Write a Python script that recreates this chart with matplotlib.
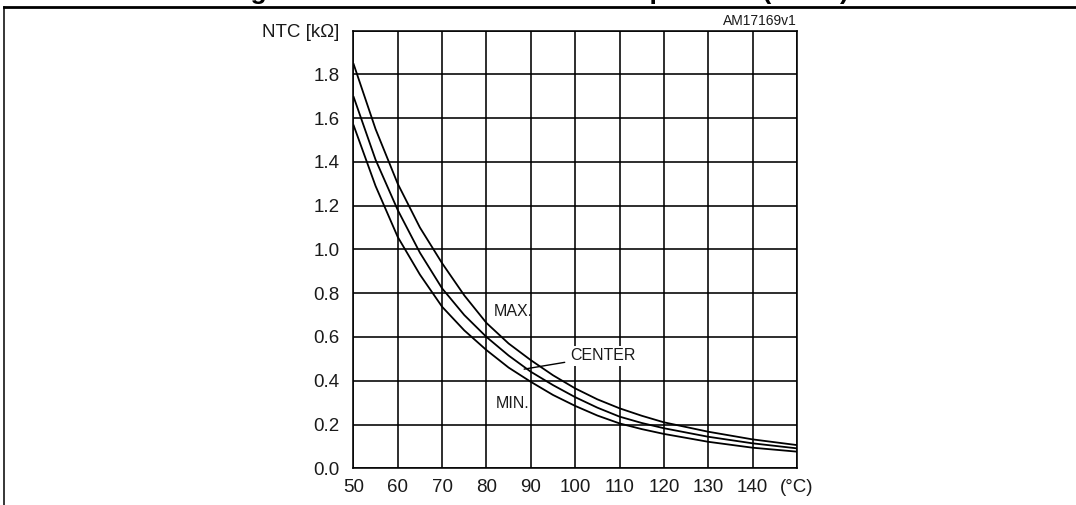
import numpy as np
import matplotlib
matplotlib.use("Agg")
import matplotlib.pyplot as plt
from matplotlib.lines import Line2D

plt.rcParams['font.family'] = ['Liberation Sans', 'DejaVu Sans']

# values (temperature in degC, resistance in kOhm)
temp = [50, 55, 60, 65, 70, 75, 80, 85, 90, 95, 100, 105, 110, 115, 120, 130, 140, 150]
r_max = [1.85, 1.55, 1.30, 1.10, 0.937, 0.79, 0.664, 0.57, 0.494, 0.425, 0.365,
         0.315, 0.274, 0.24, 0.210, 0.167, 0.132, 0.106]
r_center = [1.70, 1.41, 1.18, 0.985, 0.822, 0.70, 0.600, 0.515, 0.441, 0.38, 0.325,
            0.277, 0.236, 0.207, 0.183, 0.144, 0.114, 0.091]
r_min = [1.57, 1.29, 1.057, 0.885, 0.738, 0.63, 0.540, 0.46, 0.395, 0.335, 0.285,
         0.241, 0.205, 0.179, 0.157, 0.121, 0.094, 0.076]

xticks = [50, 60, 70, 80, 90, 100, 110, 120, 130, 140, 150]
xticklabels = ['50', '60', '70', '80', '90', '100', '110', '120', '130', '140', '(°C)']
yticks = [0.0, 0.2, 0.4, 0.6, 0.8, 1.0, 1.2, 1.4, 1.6, 1.8, 2.0]
yticklabels = ['0.0', '0.2', '0.4', '0.6', '0.8', '1.0', '1.2', '1.4', '1.6', '1.8', 'NTC [kΩ]']

title = "Figure 13. NTC resistance vs. temperature (zoom)"
code = "AM17169v1"

fig = plt.figure(figsize=(10.76, 5.05), dpi=100)
ax = fig.add_axes([0.3284, 0.0727, 0.4123, 0.8669])

for r in (r_max, r_center, r_min):
    ax.plot(temp, r, color='black', lw=1.3, solid_capstyle='butt')

ax.set_xlim(50, 150)
ax.set_ylim(0, 2.0)
ax.set_xticks(xticks)
ax.set_xticklabels(xticklabels)
ax.set_yticks(yticks)
ax.set_yticklabels(yticklabels)
ax.tick_params(length=0, labelsize=13.5, colors='#1a1a1a')
ax.tick_params(axis='x', pad=8)
ax.tick_params(axis='y', pad=10)
ax.grid(True, color='black', lw=1.15)
ax.set_axisbelow(True)
for s in ax.spines.values():
    s.set_linewidth(1.15)

# curve labels
ax.text(81.7, 0.714, "MAX.", fontsize=11.5, va='center', ha='left', color='#1a1a1a')
ax.text(82.1, 0.297, "MIN.", fontsize=11.5, va='center', ha='left', color='#1a1a1a')
ax.annotate("CENTER", xy=(88.5, 0.453), xytext=(98.8, 0.513), fontsize=11.5,
            va='center', ha='left', color='#1a1a1a',
            bbox=dict(boxstyle='square,pad=0.15', fc='white', ec='none'),
            arrowprops=dict(arrowstyle='-', color='black', lw=1.0,
                            shrinkA=2, shrinkB=0))

ax.text(1.0, 1.0127, code, transform=ax.transAxes, ha='right', va='baseline',
        fontsize=10, color='#1a1a1a')

# figure frame and clipped title
fig.text(0.5, 1.0 + 0.5 / 505, title, ha='center', va='baseline',
         fontsize=19, fontweight='bold')
fig.add_artist(Line2D([4 / 1076, 1.0], [1 - 6.5 / 505, 1 - 6.5 / 505],
                      transform=fig.transFigure, color='black', lw=2.0))
fig.add_artist(Line2D([4 / 1076, 4 / 1076], [0.0, 1 - 6.5 / 505],
                      transform=fig.transFigure, color='black', lw=1.1))

fig.savefig('out.png', dpi=100)
